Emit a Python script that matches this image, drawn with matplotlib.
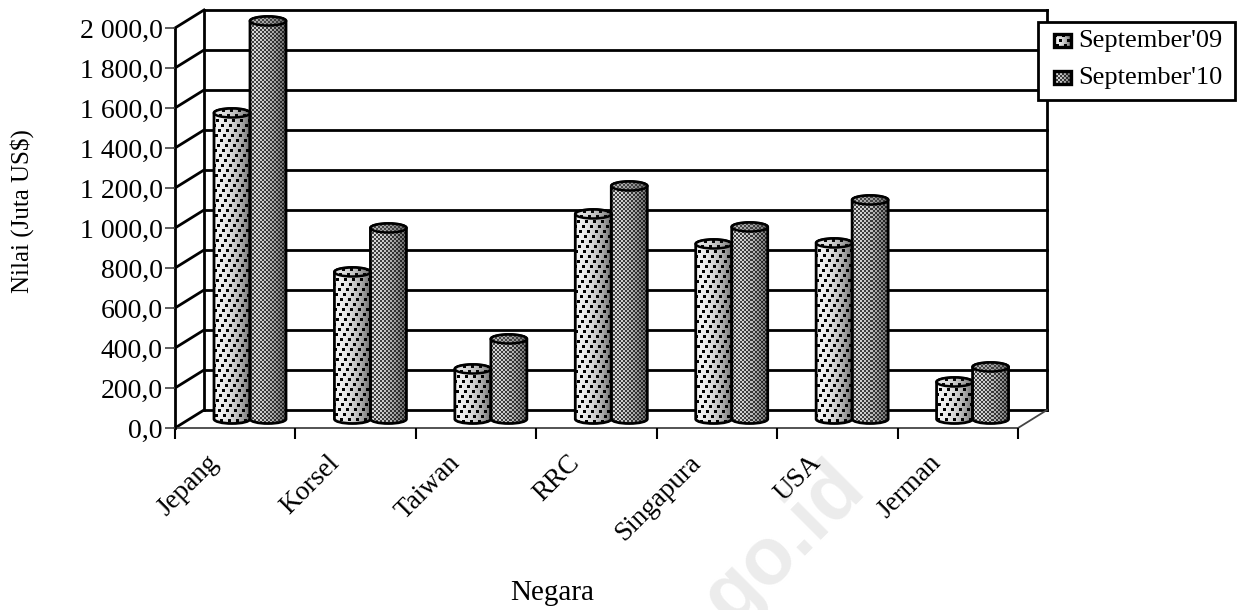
import numpy as np
import matplotlib
matplotlib.use('Agg')
import matplotlib.pyplot as plt
from matplotlib.path import Path
from matplotlib.patches import PathPatch, Rectangle, Ellipse

plt.rcParams['font.family'] = ['Liberation Serif', 'DejaVu Serif']

negara = ['Jepang', 'Korsel', 'Taiwan', 'RRC', 'Singapura', 'USA', 'Jerman']
sep09 = [1530, 735, 250, 1025, 875, 880, 185]
sep10 = [1990, 955, 400, 1165, 960, 1095, 260]
yticks = [0, 200, 400, 600, 800, 1000, 1200, 1400, 1600, 1800, 2000]
ylabels = ['0,0', '200,0', '400,0', '600,0', '800,0', '1 000,0', '1 200,0',
           '1 400,0', '1 600,0', '1 800,0', '2 000,0']

W, H = 1238, 610
fig = plt.figure(figsize=(W / 100, H / 100), dpi=100)
ax = fig.add_axes([175 / W, 1 - 428 / H, 843 / W, 400 / H])
ax.set_xlim(0, 7)
ax.set_ylim(0, 2000)

# kedalaman 3D dalam satuan data
px_x = 7 / 843
px_y = 2000 / 400
dx = 29 * px_x
dy = 18 * px_y

ax.set_facecolor('none')
for s in ax.spines.values():
    s.set_visible(False)

# dinding belakang
for t in yticks:
    ax.plot([dx, 7 + dx], [t + dy, t + dy], color='k', lw=2.0, clip_on=False, zorder=1)
    ax.plot([0, dx], [t, t + dy], color='k', lw=2.0, clip_on=False, zorder=1)
ax.plot([dx, dx], [dy, 2000 + dy], color='k', lw=2.0, clip_on=False, zorder=1)
ax.plot([7 + dx, 7 + dx], [dy, 2000 + dy], color='k', lw=2.0, clip_on=False, zorder=1)
ax.plot([0, 7, 7 + dx], [0, 0, dy], color='#444444', lw=1.3, clip_on=False, zorder=1)
ax.plot([0, 0], [0, 2000], color='k', lw=2, clip_on=False, zorder=1)


def tekstur_titik(nx, ny):
    # gradasi horizontal dengan kotak hitam berselang-seling
    xx, yy = np.meshgrid(np.arange(nx), np.arange(ny))
    u = xx / max(nx - 1, 1)
    abu = 0.95 - 0.5 * u ** 2
    baris = yy // 5
    kotak = ((xx + 3 * baris) % 8 < 3) & (yy % 5 < 3)
    return np.where(kotak, 0.0, abu)


def tekstur_halus(nx, ny):
    # pola papan catur halus yang menggelap ke kanan
    xx, yy = np.meshgrid(np.arange(nx), np.arange(ny))
    u = xx / max(nx - 1, 1)
    abu = 0.85 - 0.45 * u ** 2
    cek = (xx // 2 + yy // 2) % 2 == 0
    return np.where(cek, abu, abu * 0.3)


def silinder(x0, lebar, nilai, tekstur, terang):
    base = 9 * px_y
    rx = lebar / 2
    ry = 4.5 * px_y
    k = 0.5523
    top = nilai + base
    xm = x0 + rx
    x1 = x0 + lebar
    verts = [(x0, top), (x0, base),
             (x0, base - k * ry), (xm - k * rx, base - ry), (xm, base - ry),
             (xm + k * rx, base - ry), (x1, base - k * ry), (x1, base),
             (x1, top),
             (x1, top + k * ry), (xm + k * rx, top + ry), (xm, top + ry),
             (xm - k * rx, top + ry), (x0, top + k * ry), (x0, top),
             (x0, top)]
    codes = [Path.MOVETO, Path.LINETO,
             Path.CURVE4, Path.CURVE4, Path.CURVE4,
             Path.CURVE4, Path.CURVE4, Path.CURVE4,
             Path.LINETO,
             Path.CURVE4, Path.CURVE4, Path.CURVE4,
             Path.CURVE4, Path.CURVE4, Path.CURVE4,
             Path.CLOSEPOLY]
    bentuk = PathPatch(Path(verts, codes), facecolor='none', edgecolor='k',
                       lw=2.0, zorder=3, clip_on=False)
    ax.add_patch(bentuk)
    nx = int(round(lebar / px_x))
    ny = int(round((top + ry - (base - ry)) / px_y))
    im = ax.imshow(tekstur(nx, ny), cmap='gray', vmin=0, vmax=1, aspect='auto',
                   interpolation='nearest', zorder=2,
                   extent=(x0, x1, base - ry, top + ry))
    im.set_clip_path(bentuk)
    im.set_clip_box(fig.bbox)
    # tutup silinder
    tutup = Ellipse((xm, top), lebar, 2 * ry, facecolor='none', edgecolor='k',
                    lw=1.8, zorder=5, clip_on=False)
    ax.add_patch(tutup)
    np_y = int(round(2 * ry / px_y))
    im2 = ax.imshow(tekstur(nx, np_y) * terang + (1 - terang) * 0.35, cmap='gray', vmin=0, vmax=1,
                    aspect='auto', interpolation='nearest', zorder=4,
                    extent=(x0, x1, top - ry, top + ry))
    im2.set_clip_path(tutup)
    im2.set_clip_box(fig.bbox)


lebar = 36 * px_x
for i in range(len(negara)):
    x_a = i + 39 * px_x
    silinder(x_a, lebar, sep09[i], tekstur_titik, 0.9)
    silinder(x_a + lebar, lebar, sep10[i], tekstur_halus, 0.7)

ax.set_xlim(0, 7)
ax.set_ylim(0, 2000)

ax.set_yticks(yticks)
ax.set_yticklabels(ylabels, fontsize=20)
ax.set_xticks(range(8))
ax.set_xticklabels([])
ax.tick_params(axis='y', length=7, width=1.2, pad=2, direction='out', color='#444444')
ax.tick_params(axis='x', length=8, width=1.5, direction='out')

# label negara diputar 45 derajat
for i, n in enumerate(negara):
    ax.annotate(n, xy=(i + 0.5, 0), xytext=(-21, -16), textcoords='offset points',
                rotation=45, ha='right', va='top', rotation_mode='anchor', fontsize=19.5)

fig.text(552 / W, 1 - 593 / H, 'Negara', fontsize=21, ha='center', va='center')
fig.text(22 / W, 1 - 211 / H, 'Nilai (Juta US$)', fontsize=18, rotation=90,
         ha='center', va='center')

# legenda
lax = fig.add_axes([0, 0, 1, 1], facecolor='none', zorder=5)
lax.set_xlim(0, W)
lax.set_ylim(H, 0)
lax.axis('off')
lax.add_patch(Rectangle((1038, 22), 197, 78, facecolor='w', edgecolor='k', lw=2))
for yy, lab, tex in [(40, "September'09", tekstur_titik), (77, "September'10", tekstur_halus)]:
    lax.imshow(tex(17, 13), cmap='gray', vmin=0, vmax=1, aspect='auto',
               interpolation='nearest', extent=(1054, 1071, yy + 7, yy - 6), zorder=3)
    lax.add_patch(Rectangle((1054, yy - 6), 17, 13, facecolor='none', edgecolor='k',
                            lw=2.4, zorder=4))
    lax.text(1078, yy + 1, lab, fontsize=19, va='center', ha='left')
lax.set_xlim(0, W)
lax.set_ylim(H, 0)

# tanda air
fig.text(785 / W, 1 - 543 / H, 'go.id', fontsize=58, color='#ececec', rotation=45,
         ha='center', va='center', fontweight='bold', family='Liberation Sans', zorder=-1)

fig.savefig('out.png', dpi=100)
